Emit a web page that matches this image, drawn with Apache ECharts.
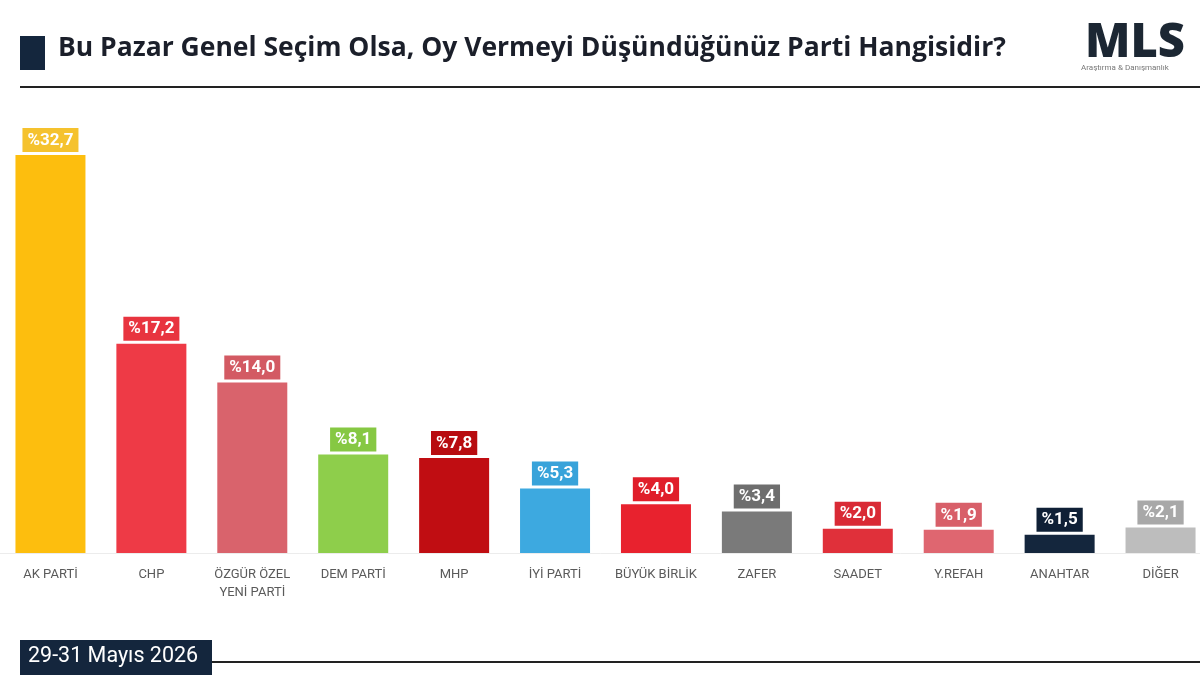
<!DOCTYPE html>
<html>
<head>
<meta charset="utf-8">
<title>Bu Pazar Genel Seçim Olsa</title>
<script src="https://cdn.jsdelivr.net/npm/echarts@6/dist/echarts.min.js"></script>
<style>
  html, body { margin: 0; padding: 0; background: #fff; }
  #chart { width: 1200px; height: 675px; }
</style>
</head>
<body>
<div id="chart"></div>
<script>
// partiler ve oy oranları
const parties = ['AK PARTİ', 'CHP', 'ÖZGÜR ÖZEL\nYENİ PARTİ', 'DEM PARTİ', 'MHP', 'İYİ PARTİ',
  'BÜYÜK BİRLİK', 'ZAFER', 'SAADET', 'Y.REFAH', 'ANAHTAR', 'DİĞER']
const votes = [32.7, 17.2, 14.0, 8.1, 7.8, 5.3, 4.0, 3.4, 2.0, 1.9, 1.5, 2.1]
const barColors = ['#FDBE0E', '#EE3A46', '#D9636C', '#8ECE4B', '#C00D12', '#3DA9E0',
  '#E8222E', '#7A7A7A', '#E0303A', '#DF6670', '#14263D', '#BDBDBD']
const labelColors = ['#F5C22E', '#E8343F', '#D35A63', '#86C843', '#B80C10', '#38A3DA',
  '#E01E2A', '#6E6E6E', '#D92A35', '#D85F69', '#0F2036', '#A8A8A8']

const navy = '#14263D'

const chart = echarts.init(document.getElementById('chart'))

const seriesData = votes.map((v, i) => ({
  value: v,
  itemStyle: { color: barColors[i] },
  label: { backgroundColor: labelColors[i] }
}))

const option = {
  backgroundColor: '#fff',
  animation: false,
  // son sütun kenara taşıyor, o yüzden grid sayfadan biraz geniş
  grid: { left: 0, width: 1211, top: 127, bottom: 122, outerBoundsMode: 'none', containLabel: false },
  xAxis: {
    type: 'category',
    data: parties,
    axisTick: { show: false },
    axisLine: { lineStyle: { color: '#ececec', width: 1 } },
    axisLabel: {
      color: '#5a5a5a',
      fontSize: 13,
      fontFamily: 'Roboto',
      margin: 13,
      lineHeight: 18,
      interval: 0
    }
  },
  yAxis: {
    type: 'value',
    min: 0,
    max: 35,
    show: false,
    splitLine: { show: false }
  },
  series: [{
    type: 'bar',
    data: seriesData,
    barWidth: 70,
    label: {
      show: true,
      position: 'top',
      distance: 3,
      color: '#fff',
      fontSize: 17,
      fontWeight: 'bold',
      fontFamily: 'Roboto',
      padding: [4, 5, 3, 5],
      formatter: p => '%' + p.value.toFixed(1).replace('.', ',')
    }
  }],
  graphic: [
    // başlık
    { type: 'rect', left: 20, top: 36, shape: { width: 25, height: 34 }, style: { fill: navy } },
    {
      type: 'text', left: 58, top: 35,
      style: {
        text: 'Bu Pazar Genel Seçim Olsa, Oy Vermeyi Düşündüğünüz Parti Hangisidir?',
        fill: '#1b1f2a', font: 'bold 26.5px "Open Sans"'
      }
    },
    { type: 'line', shape: { x1: 20, y1: 87, x2: 1200, y2: 87 }, style: { stroke: '#222', lineWidth: 2 } },
    // logo
    {
      type: 'text', left: 1085, top: 20,
      style: { text: 'MLS', fill: '#1c2733', font: '900 47px "Open Sans"' }
    },
    {
      type: 'text', left: 1081, top: 64,
      style: { text: 'Araştırma & Danışmanlık', fill: '#777', font: '8px Roboto' }
    },
    // tarih
    { type: 'rect', left: 20, top: 640, shape: { width: 192, height: 35 }, style: { fill: navy } },
    {
      type: 'text', left: 28, top: 646,
      style: { text: '29-31 Mayıs 2026', fill: '#fff', font: '21.5px Roboto' }
    },
    { type: 'line', shape: { x1: 212, y1: 662, x2: 1200, y2: 662 }, style: { stroke: '#222', lineWidth: 2 } }
  ]
}

chart.setOption(option)
window.addEventListener('resize', () => chart.resize())
</script>
</body>
</html>
